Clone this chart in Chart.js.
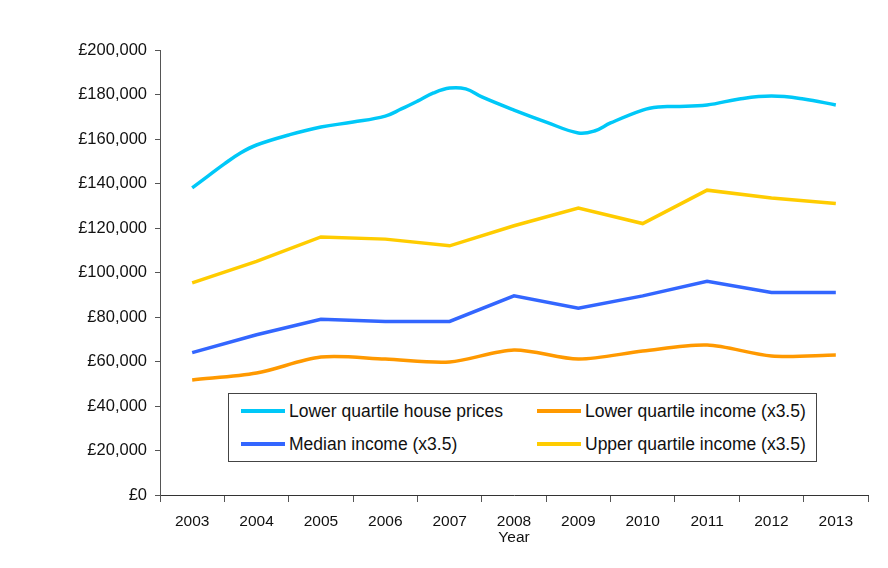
<!DOCTYPE html>
<html>
<head>
<meta charset="utf-8">
<title>House prices and incomes</title>
<script src="https://cdn.jsdelivr.net/npm/chart.js@4.4.0/dist/chart.umd.min.js"></script>
<style>
  html, body { margin: 0; padding: 0; background: #fff; }
  #wrap { position: relative; width: 888px; height: 568px; }
  #legend {
    position: absolute; left: 228px; top: 393px; width: 589px; height: 69px;
    border: 1px solid #444; box-sizing: border-box; background: #fff;
    font: 17.5px "Liberation Sans", Arial, sans-serif; color: #111;
  }
  .item { position: absolute; display: flex; align-items: center; height: 22px; white-space: nowrap; }
  .swatch { width: 44px; height: 4px; margin-right: 4px; }
</style>
</head>
<body>
<div id="wrap">
  <canvas id="myChart" width="888" height="568"></canvas>
  <div id="legend"></div>
</div>
<script>
// years on the axis
const years = ['2003', '2004', '2005', '2006', '2007', '2008', '2009', '2010', '2011', '2012', '2013'];

// lower quartile house prices, sampled through the year
const houseTimes = [2003, 2003.25, 2003.5, 2003.75, 2004, 2004.5, 2005, 2005.5, 2006, 2006.25, 2006.5, 2006.75,
  2007, 2007.25, 2007.5, 2008, 2008.5, 2009, 2009.25, 2009.5, 2010, 2010.25, 2010.5, 2011, 2011.5, 2012, 2012.5, 2013];
const housePrices = [138000, 143400, 148800, 153700, 157300, 161800, 165400, 167600, 170300, 173500, 177000, 180700,
  182900, 182500, 178900, 173000, 167600, 162700, 163600, 167200, 173000, 174400, 174600, 175300, 178000, 179300, 178000, 175300];

// incomes multiplied by 3.5
const lowerIncome = [51700, 54800, 62000, 61100, 59800, 65200, 61100, 64700, 67400, 62500, 62900];
const medianIncome = [64000, 72000, 79000, 78000, 78000, 89500, 84000, 89500, 96000, 91000, 91000];
const upperIncome = [95300, 105000, 116000, 115000, 112000, 121000, 129000, 122000, 137000, 133500, 131000];

const seriesNames = ['Lower quartile house prices', 'Lower quartile income (x3.5)', 'Median income (x3.5)', 'Upper quartile income (x3.5)'];
const seriesColors = ['#00c8f8', '#ff9900', '#3366ff', '#ffcc00'];

const fontFamily = '"Liberation Sans", Arial, sans-serif';

function pairs(xs, ys) {
  return xs.map((x, i) => ({ x: Number(x), y: ys[i] }));
}

function pounds(v) {
  return '£' + String(v).replace(/\B(?=(\d{3})+(?!\d))/g, ',');
}

const lineBase = { pointRadius: 0, borderWidth: 3.5, fill: false, xAxisID: 'xv' };

const data = {
  labels: years,
  datasets: [
    { ...lineBase, label: seriesNames[0], data: pairs(houseTimes, housePrices), borderColor: seriesColors[0], tension: 0.4 },
    { ...lineBase, label: seriesNames[1], data: pairs(years, lowerIncome), borderColor: seriesColors[1], tension: 0.3 },
    { ...lineBase, label: seriesNames[2], data: pairs(years, medianIncome), borderColor: seriesColors[2], tension: 0 },
    { ...lineBase, label: seriesNames[3], data: pairs(years, upperIncome), borderColor: seriesColors[3], tension: 0 },
  ],
};

const config = {
  type: 'line',
  data: data,
  options: {
    responsive: false,
    animation: false,
    layout: { padding: { left: 0, top: 50, right: 20, bottom: 0 } },
    plugins: {
      legend: { display: false },
      tooltip: { enabled: false },
    },
    scales: {
      // hidden numeric axis the lines are plotted on
      xv: {
        type: 'linear',
        display: false,
        min: 2002.5,
        max: 2013.5,
      },
      x: {
        type: 'category',
        offset: true,
        afterFit: (scale) => { scale.height = 73; },
        grid: { offset: true, drawOnChartArea: false, tickLength: 7, color: '#555' },
        border: { color: '#333', width: 1 },
        ticks: { color: '#111', padding: 10, font: { family: fontFamily, size: 15.5 } },
        title: {
          display: true,
          text: 'Year',
          color: '#111',
          padding: { top: 0, bottom: 21 },
          font: { family: fontFamily, size: 15.5 },
        },
      },
      y: {
        min: 0,
        max: 200000,
        afterFit: (scale) => { scale.width = 160; },
        grid: { drawOnChartArea: false, tickLength: 5, color: '#555' },
        border: { color: '#555', width: 1 },
        ticks: {
          stepSize: 20000,
          padding: 8,
          color: '#111',
          font: { family: fontFamily, size: 16.5 },
          callback: (value) => pounds(value),
        },
      },
    },
  },
};

new Chart(document.getElementById('myChart').getContext('2d'), config);

// boxed legend in two columns, drawn as real text
const legendSlots = [
  { left: 12, top: 6 },   // house prices
  { left: 308, top: 6 },  // lower quartile income
  { left: 12, top: 39 },  // median income
  { left: 308, top: 39 }, // upper quartile income
];
const legendBox = document.getElementById('legend');
seriesNames.forEach((name, i) => {
  const item = document.createElement('div');
  item.className = 'item';
  item.style.left = legendSlots[i].left + 'px';
  item.style.top = legendSlots[i].top + 'px';
  const sw = document.createElement('span');
  sw.className = 'swatch';
  sw.style.background = seriesColors[i];
  const txt = document.createElement('span');
  txt.textContent = name;
  item.appendChild(sw);
  item.appendChild(txt);
  legendBox.appendChild(item);
});
</script>
</body>
</html>
